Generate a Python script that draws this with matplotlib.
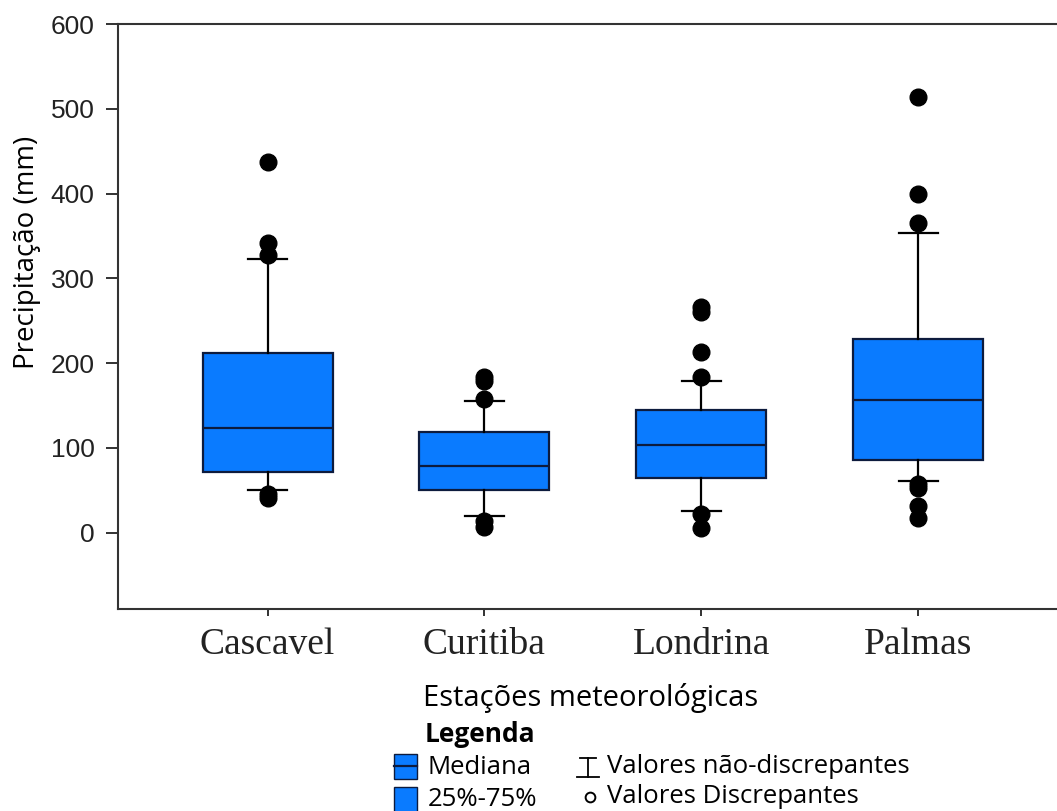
import matplotlib
matplotlib.use("Agg")
import matplotlib.pyplot as plt
from matplotlib.patches import Rectangle
from matplotlib.lines import Line2D

# Summary statistics (mm)
stations = ["Cascavel", "Curitiba", "Londrina", "Palmas"]
medians = [124, 79, 103, 156]
q1 = [71, 50, 65, 86]
q3 = [212, 119, 145, 228]
whisk_lo = [50, 20, 26, 61]
whisk_hi = [323, 155, 179, 354]
outliers = [
    [437, 342, 327, 46, 41],
    [184, 179, 158, 14, 7],
    [266, 260, 213, 184, 22, 6],
    [514, 400, 365, 58, 53, 31, 17],
]

yticks = [0, 100, 200, 300, 400, 500, 600]

W, H = 1057, 811
fig = plt.figure(figsize=(W / 100, H / 100), dpi=100)
ax = fig.add_axes([118 / W, 1 - 609 / H, (1072 - 118) / W, (609 - 24) / H])

box_color = "#0a7bff"
edge = "#0d1b3d"

stats = []
for i, name in enumerate(stations):
    stats.append({
        "label": name,
        "med": medians[i],
        "q1": q1[i],
        "q3": q3[i],
        "whislo": whisk_lo[i],
        "whishi": whisk_hi[i],
        "fliers": outliers[i],
    })

ax.bxp(
    stats,
    positions=[1, 2, 3, 4],
    widths=0.6,
    patch_artist=True,
    boxprops=dict(facecolor=box_color, edgecolor=edge, linewidth=1.6),
    medianprops=dict(color=edge, linewidth=1.6),
    whiskerprops=dict(color="black", linewidth=1.6),
    capprops=dict(color="black", linewidth=1.6),
    capwidths=0.18,
    flierprops=dict(marker="o", markerfacecolor="black", markeredgecolor="black", markersize=12),
)

ax.set_xlim(0.31, 4.71)
ax.set_ylim(-90, 600)
ax.set_yticks(yticks)
ax.set_yticklabels([str(v) for v in yticks], fontsize=19, fontfamily="Liberation Sans")
ax.set_xticks([1, 2, 3, 4])
ax.set_xticklabels(stations, fontsize=27, fontfamily="Liberation Serif")
ax.tick_params(axis="y", length=9, width=1.3, pad=8, colors="#222222")
ax.tick_params(axis="x", length=5, width=1.3, pad=8, colors="#222222")
ax.spines["right"].set_visible(False)
for s in ["left", "bottom", "top"]:
    ax.spines[s].set_linewidth(1.5)
    ax.spines[s].set_color("#333333")

sans = "Open Sans"
fig.text(27 / W, 1 - 252 / H, "Precipitação (mm)", rotation=90, ha="center", va="center",
         fontsize=20, fontfamily=sans)
fig.text(423 / W, 1 - 706 / H, "Estações meteorológicas", ha="left", va="baseline",
         fontsize=21, fontfamily=sans)

# Legend block drawn by hand
fs = 18.5
fig.text(425 / W, 1 - 742 / H, "Legenda", ha="left", va="baseline", fontsize=19,
         fontweight="bold", fontfamily=sans)
fig.text(428 / W, 1 - 774 / H, "Mediana", ha="left", va="baseline", fontsize=fs, fontfamily=sans)
fig.text(428 / W, 1 - 806 / H, "25%-75%", ha="left", va="baseline", fontsize=fs, fontfamily=sans)
fig.text(607 / W, 1 - 773 / H, "Valores não-discrepantes", ha="left", va="baseline",
         fontsize=fs, fontfamily=sans)
fig.text(607 / W, 1 - 803 / H, "Valores Discrepantes", ha="left", va="baseline",
         fontsize=fs, fontfamily=sans)

fig.patches.append(Rectangle((394 / W, 1 - 779 / H), 23 / W, 25 / H,
                             facecolor=box_color, edgecolor=edge, linewidth=1.0,
                             transform=fig.transFigure))
fig.patches.append(Rectangle((394 / W, 1 - 812 / H), 23 / W, 25 / H,
                             facecolor=box_color, edgecolor=edge, linewidth=1.0,
                             transform=fig.transFigure))
fig.lines.append(Line2D([394 / W, 417 / W], [1 - 766 / H, 1 - 766 / H], color=edge,
                        linewidth=1.6, transform=fig.transFigure))

# whisker symbol
ix = 588
fig.lines.append(Line2D([ix / W, ix / W], [1 - 758 / H, 1 - 777 / H], color="black",
                        linewidth=1.3, transform=fig.transFigure))
for yy, half in ((758, 8), (777, 11)):
    fig.lines.append(Line2D([(ix - half) / W, (ix + half) / W], [1 - yy / H, 1 - yy / H],
                            color="black", linewidth=1.3, transform=fig.transFigure))
fig.lines.append(Line2D([590 / W], [1 - 797 / H], marker="o", markersize=7,
                        markerfacecolor="white", markeredgecolor="black",
                        markeredgewidth=1.4, transform=fig.transFigure))

fig.savefig("out.png", dpi=100)
